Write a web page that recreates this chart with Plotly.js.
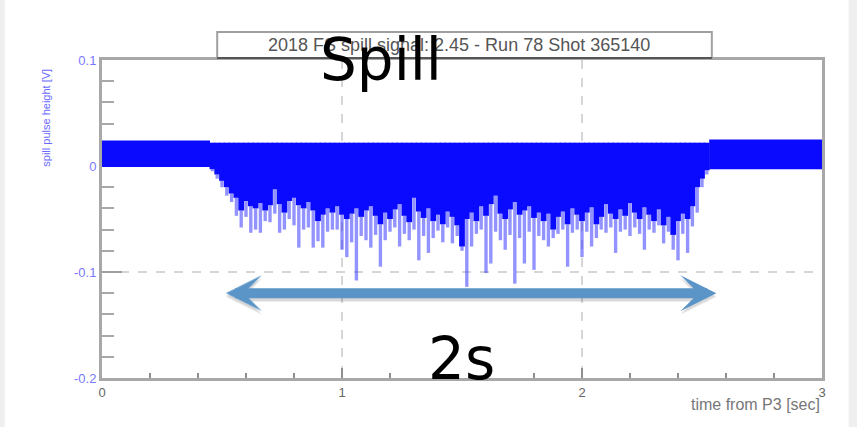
<!DOCTYPE html>
<html>
<head>
<meta charset="utf-8">
<script src="https://cdn.plot.ly/plotly-3.0.1.min.js"></script>
<style>html,body{margin:0;padding:0;background:#fff;}#chart{width:857px;height:427px;}</style>
</head>
<body>
<div id="chart"></div>
<script>
// ---- data ----
const titleText = "2018 FS spill signal: 2.45 - Run 78 Shot 365140";
const xTickVals = [0, 1, 2, 3];
const xTickText = ["0", "1", "2", "3"];
const yTickVals = [-0.2, -0.1, 0, 0.1];
const yTickText = ["-0.2", "-0.1", "0", "0.1"];

// quiet baseline before / after the spill (sec, V)
const preT = [0, 0.45];
const preTop = [0.024, 0.024];
const preBot = [-0.001, -0.001];
const postT = [2.53, 3];
const postTop = [0.025, 0.025];
const postBot = [-0.003, -0.003];

// spill region samples
const spillT0 = 0.46, spillDt = 0.02;
const spillTop = 0.022;
const core = [
 -0.003,-0.008,-0.014,-0.020,-0.026,-0.030,-0.042,-0.033,-0.038,-0.040,
 -0.035,-0.042,-0.037,-0.022,-0.036,-0.044,-0.033,-0.030,-0.037,-0.040,
 -0.034,-0.042,-0.052,-0.046,-0.040,-0.044,-0.038,-0.046,-0.050,-0.045,
 -0.040,-0.048,-0.042,-0.038,-0.047,-0.055,-0.044,-0.050,-0.041,-0.036,
 -0.047,-0.053,-0.030,-0.043,-0.049,-0.040,-0.052,-0.046,-0.055,-0.043,
 -0.048,-0.056,-0.076,-0.050,-0.044,-0.052,-0.038,-0.047,-0.036,-0.028,
 -0.045,-0.050,-0.041,-0.034,-0.046,-0.042,-0.038,-0.049,-0.044,-0.052,
 -0.045,-0.060,-0.048,-0.043,-0.055,-0.040,-0.046,-0.052,-0.044,-0.039,
 -0.055,-0.048,-0.036,-0.045,-0.050,-0.041,-0.047,-0.035,-0.044,-0.050,
 -0.039,-0.046,-0.052,-0.041,-0.056,-0.048,-0.065,-0.052,-0.045,-0.050,
 -0.038,-0.020,-0.012,-0.004
];
const spike = [
 -0.005,-0.012,-0.020,-0.028,-0.034,-0.047,-0.058,-0.048,-0.063,-0.060,
 -0.063,-0.052,-0.053,-0.045,-0.063,-0.060,-0.050,-0.056,-0.077,-0.060,
 -0.058,-0.077,-0.071,-0.077,-0.062,-0.060,-0.060,-0.079,-0.086,-0.072,
 -0.108,-0.066,-0.070,-0.077,-0.065,-0.095,-0.070,-0.062,-0.058,-0.076,
 -0.064,-0.070,-0.060,-0.089,-0.066,-0.082,-0.068,-0.061,-0.072,-0.058,
 -0.073,-0.066,-0.080,-0.114,-0.076,-0.064,-0.060,-0.101,-0.092,-0.062,
 -0.070,-0.079,-0.065,-0.111,-0.068,-0.092,-0.062,-0.098,-0.066,-0.070,
 -0.076,-0.068,-0.064,-0.060,-0.095,-0.063,-0.060,-0.086,-0.062,-0.076,
 -0.068,-0.060,-0.063,-0.058,-0.082,-0.062,-0.060,-0.066,-0.058,-0.064,
 -0.079,-0.060,-0.063,-0.056,-0.073,-0.062,-0.079,-0.089,-0.064,-0.082,
 -0.057,-0.044,-0.020,-0.008
];

// annotation values
const arrowFrom = 0.51, arrowTo = 2.56, arrowLevel = -0.12;

// ---- build traces ----
const spillX = core.map((_, i) => spillT0 + i * spillDt);
const BLUE = "#0a0aff";

const traces = [
  { x: preT.concat(preT.slice().reverse()), y: preTop.concat(preBot.slice().reverse()),
    type: "scatter", mode: "lines", fill: "toself", fillcolor: BLUE,
    line: { width: 0, color: BLUE }, hoverinfo: "skip" },
  { x: postT.concat(postT.slice().reverse()), y: postTop.concat(postBot.slice().reverse()),
    type: "scatter", mode: "lines", fill: "toself", fillcolor: BLUE,
    line: { width: 0, color: BLUE }, hoverinfo: "skip" },
  { x: spillX, base: spike, y: spike.map((s, i) => core[i] - s), type: "bar",
    width: 0.014, marker: { color: "rgba(30,30,255,0.48)", line: { width: 0 } }, hoverinfo: "skip" },
  { x: spillX, base: core, y: core.map(c => spillTop - c), type: "bar",
    width: 0.024, marker: { color: BLUE, line: { width: 0 } }, hoverinfo: "skip" }
];

const axGrey = "#a8a8a8";
const layout = {
  width: 857, height: 427,
  margin: { l: 102, r: 35, t: 60, b: 49 },
  paper_bgcolor: "#ffffff", plot_bgcolor: "#ffffff",
  showlegend: false, barmode: "overlay",
  font: { family: "Liberation Sans, Arial, sans-serif", color: "#666" },
  xaxis: {
    range: [0, 3], tickvals: xTickVals, ticktext: xTickText,
    ticks: "inside", ticklen: 10, tickwidth: 2, tickcolor: "#909090",
    minor: { dtick: 0.2, ticks: "inside", ticklen: 5, tickwidth: 2, tickcolor: "#909090", showgrid: false },
    showline: true, linewidth: 3, linecolor: axGrey, mirror: true,
    showgrid: true, gridcolor: "#d6d6d6", gridwidth: 2, griddash: "dash",
    zeroline: false, tickfont: { size: 13, color: "#666" }
  },
  yaxis: {
    range: [-0.2, 0.1], tickvals: yTickVals, ticktext: yTickText,
    ticks: "inside", ticklen: 20, tickwidth: 2, tickcolor: "#a0a0a0",
    minor: { dtick: 0.02, ticks: "inside", ticklen: 12, tickwidth: 2, tickcolor: "#a8a8a8", showgrid: false },
    showline: true, linewidth: 3, linecolor: axGrey, mirror: true,
    showgrid: true, gridcolor: "#d6d6d6", gridwidth: 2, griddash: "dash",
    zeroline: false, tickfont: { size: 13, color: "#7a7aff" },
    layer: "below traces"
  },
  shapes: [
    { type: "rect", xref: "paper", yref: "paper", x0: -0.142, x1: -0.135, y0: -0.16, y1: 1.2,
      fillcolor: "#efefef", line: { width: 0 }, layer: "below" },
    { type: "rect", xref: "paper", yref: "paper", x0: 1.037, x1: 1.05, y0: -0.16, y1: 1.2,
      fillcolor: "#efefef", line: { width: 0 }, layer: "below" },
    { type: "rect", xref: "paper", yref: "paper", x0: 0.160, x1: 0.847, y0: 1.006, y1: 1.088,
      fillcolor: "#ffffff", line: { color: "#a0a0a0", width: 2 } },
    { type: "line", xref: "paper", yref: "paper", x0: 0.160, x1: 0.847, y0: 1.006, y1: 1.006,
      line: { color: "#555555", width: 2 } }
  ],
  annotations: [
    { text: titleText, xref: "paper", yref: "paper", x: 0.4965, y: 1.047,
      xanchor: "center", yanchor: "middle", showarrow: false,
      font: { size: 18, color: "#555" } },
    { text: "spill pulse height [V]", xref: "paper", yref: "paper", x: -0.078, y: 0.818,
      xanchor: "center", yanchor: "middle", textangle: -90, showarrow: false,
      font: { size: 11, color: "#6a6aff" } },
    { text: "time from P3 [sec]", xref: "paper", yref: "paper", x: 1.0, y: -0.05,
      xanchor: "right", yanchor: "top", showarrow: false,
      font: { size: 16, color: "#777" } },
    // arrow shadow
    { x: arrowTo, y: arrowLevel - 0.003, ax: arrowFrom, ay: arrowLevel - 0.003, xref: "x", yref: "y",
      axref: "x", ayref: "y", text: "", showarrow: true, arrowside: "end+start",
      arrowhead: 3, startarrowhead: 3, arrowsize: 0.6, startarrowsize: 0.6, arrowwidth: 10,
      arrowcolor: "rgba(0,0,0,0.15)", standoff: 0, startstandoff: 0 },
    { x: arrowTo, y: arrowLevel, ax: arrowFrom, ay: arrowLevel, xref: "x", yref: "y",
      axref: "x", ayref: "y", text: "", showarrow: true, arrowside: "end+start",
      arrowhead: 3, startarrowhead: 3, arrowsize: 0.6, startarrowsize: 0.6, arrowwidth: 10,
      arrowcolor: "#5b95c8", standoff: 0, startstandoff: 0 },
    { text: "Spill", xref: "paper", yref: "paper", x: 0.387, y: 1.0,
      xanchor: "center", yanchor: "middle", showarrow: false,
      font: { size: 58, color: "#000", family: "DejaVu Sans, sans-serif" } },
    { text: "2s", xref: "paper", yref: "paper", x: 0.499, y: 0.06,
      xanchor: "center", yanchor: "middle", showarrow: false,
      font: { size: 58, color: "#000", family: "DejaVu Sans, sans-serif" } }
  ]
};

Plotly.newPlot("chart", traces, layout, { staticPlot: true, displayModeBar: false });
</script>
</body>
</html>
